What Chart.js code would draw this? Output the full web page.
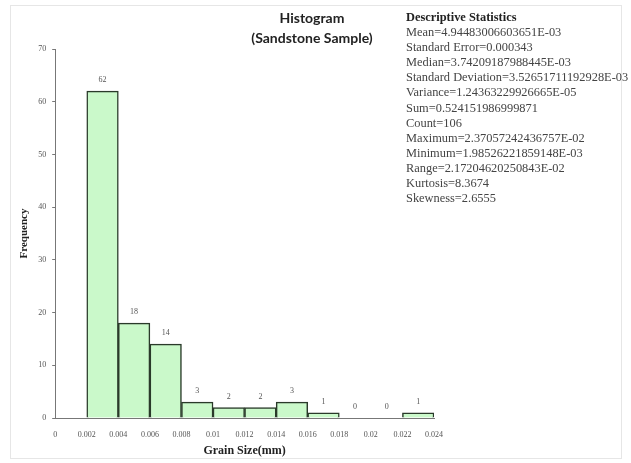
<!DOCTYPE html>
<html>
<head>
<meta charset="utf-8">
<script src="https://cdn.jsdelivr.net/npm/chart.js@4"></script>
<style>
  html, body { margin: 0; padding: 0; background: #fff; overflow: hidden; }
  #wrap { position: relative; width: 631px; height: 463px; }
  #frame { position: absolute; left: 10px; top: 5px; width: 612px; height: 454px; border: 1px solid #e6e6e6; box-sizing: border-box; }
  #title {
    position: absolute; left: 212px; width: 200px; top: 8px; text-align: center;
    font-family: Lato, sans-serif; font-weight: bold; font-size: 14px; line-height: 20px; color: #222;
  }
  #stats {
    position: absolute; left: 406px; top: 10px;
    font-family: "Liberation Serif", serif; font-size: 12.4px; line-height: 15.1px;
    color: #444; white-space: nowrap;
  }
  #stats b { color: #222; }
</style>
</head>
<body>
<div id="wrap">
  <div id="frame"></div>
  <canvas id="histChart" width="631" height="463"></canvas>
  <div id="title">Histogram<br>(Sandstone Sample)</div>
  <div id="stats"></div>
</div>
<script>
const binCenters = [0.003, 0.005, 0.007, 0.009, 0.011, 0.013, 0.015, 0.017, 0.019, 0.021, 0.023];
const counts = [62, 18, 14, 3, 2, 2, 3, 1, 0, 0, 1];
const statLines = [
  'Mean=4.94483006603651E-03',
  'Standard Error=0.000343',
  'Median=3.74209187988445E-03',
  'Standard Deviation=3.52651711192928E-03',
  'Variance=1.24363229926665E-05',
  'Sum=0.524151986999871',
  'Count=106',
  'Maximum=2.37057242436757E-02',
  'Minimum=1.98526221859148E-03',
  'Range=2.17204620250843E-02',
  'Kurtosis=8.3674',
  'Skewness=2.6555'
];

document.getElementById('stats').innerHTML =
  '<b>Descriptive Statistics</b><br>' + statLines.join('<br>');

// value labels above each bar
const barLabels = {
  id: 'barLabels',
  afterDatasetsDraw(chart) {
    const ctx = chart.ctx;
    const meta = chart.getDatasetMeta(0);
    ctx.save();
    ctx.font = '8px "Liberation Serif", serif';
    ctx.fillStyle = '#555';
    ctx.textAlign = 'center';
    ctx.textBaseline = 'bottom';
    meta.data.forEach((bar, i) => {
      ctx.fillText(counts[i], bar.x, bar.y - 7);
    });
    ctx.restore();
  }
};

const ctx = document.getElementById('histChart').getContext('2d');
new Chart(ctx, {
  type: 'bar',
  data: {
    datasets: [{
      data: binCenters.map((x, i) => ({ x, y: counts[i] })),
      backgroundColor: 'rgb(202,249,202)',
      borderColor: '#2a3a2a',
      borderWidth: 1.5,
      barPercentage: 1,
      categoryPercentage: 1
    }]
  },
  options: {
    responsive: false,
    animation: false,
    layout: { padding: { left: 18, right: 197, top: 49, bottom: 5 } },
    plugins: {
      legend: { display: false },
      tooltip: { enabled: false }
    },
    scales: {
      x: {
        type: 'linear',
        offset: false,
        min: 0,
        max: 0.024,
        ticks: {
          stepSize: 0.002,
          font: { family: 'Liberation Serif', size: 8 },
          color: '#555',
          maxRotation: 0,
          padding: 4,
          callback: v => String(+v.toFixed(3))
        },
        grid: { display: false, offset: false },
        border: { display: true, color: '#777', width: 1 },
        title: {
          display: true,
          text: 'Grain Size(mm)',
          font: { family: 'Liberation Serif', size: 12, weight: 'bold' },
          color: '#222',
          padding: { top: 0, bottom: 0 }
        }
      },
      y: {
        min: 0,
        max: 70,
        ticks: {
          stepSize: 10,
          font: { family: 'Liberation Serif', size: 8 },
          color: '#555',
          padding: 6
        },
        grid: { drawOnChartArea: false, drawTicks: true, tickLength: 3, color: '#777' },
        border: { display: true, color: '#777', width: 1 },
        title: {
          display: true,
          text: 'Frequency',
          font: { family: 'Liberation Serif', size: 11, weight: 'bold' },
          color: '#222',
          padding: { top: 0, bottom: 1 }
        }
      }
    }
  },
  plugins: [barLabels]
});
</script>
</body>
</html>
